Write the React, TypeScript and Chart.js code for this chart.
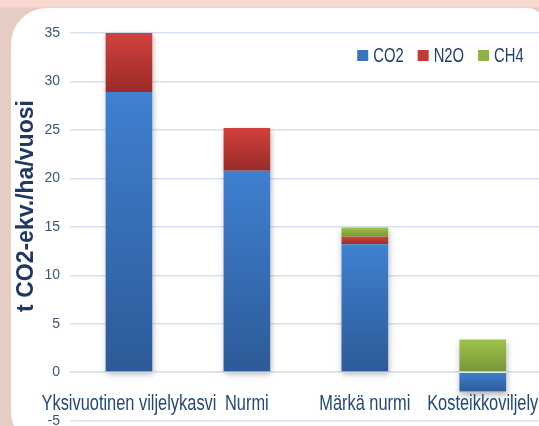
import React, { useEffect, useRef } from "react";
import { Chart, registerables } from "chart.js";

Chart.register(...registerables);

// ---- data ----
const categories = ["Yksivuotinen viljelykasvi", "Nurmi", "Märkä nurmi", "Kosteikkoviljely"];
const seriesNames = ["CO2", "N2O", "CH4"];
const co2Values = [28.9, 20.8, 13.2, -2.0];
const n2oValues = [6.1, 4.4, 0.77, 0];
const ch4Values = [0, 0, 0.96, 3.37];
const yMin = -5;
const yMax = 35;
const yStep = 5;
const yTitle = "t CO2-ekv./ha/vuosi";

// ---- styles ----
const SANS = '"Liberation Sans", Arial, sans-serif';
const gradStops = [
  ["#3F80D0", "#2D5A98"],
  ["#D1413C", "#992B28"],
  ["#9EC24A", "#76953A"],
];
const legendColors = ["#3A74BE", "#C23A33", "#8DB440"];

function segmentGradient(c: any) {
  const chart = c.chart;
  const d = c.datasetIndex;
  const area = chart.chartArea;
  if (!area || c.type !== "data") return gradStops[d][0];
  const i = c.dataIndex;
  const v = chart.data.datasets[d].data[i] as number;
  let base = 0;
  for (let k = 0; k < d; k++) {
    const w = chart.data.datasets[k].data[i] as number;
    if (w !== 0 && (w >= 0) === (v >= 0)) base += w;
  }
  const ys = chart.scales.y;
  const p1 = ys.getPixelForValue(base);
  const p2 = ys.getPixelForValue(base + v);
  const top = Math.min(p1, p2);
  let bot = Math.max(p1, p2);
  if (bot - top < 1) bot = top + 1;
  const g = chart.ctx.createLinearGradient(0, top, 0, bot);
  g.addColorStop(0, gradStops[d][0]);
  g.addColorStop(1, gradStops[d][1]);
  return g;
}

function squeezedText(c: CanvasRenderingContext2D, text: string, x: number, y: number, sx: number) {
  c.save();
  c.translate(x, y);
  c.scale(sx, 1);
  c.fillText(text, 0, 0);
  c.restore();
}

const overlayPlugin = {
  id: "overlay",
  beforeDatasetsDraw(chart: any) {
    // soft drop shadow behind each whole stack
    const c = chart.ctx;
    const n = categories.length;
    c.save();
    c.shadowColor = "rgba(0,0,0,0.30)";
    c.shadowBlur = 6;
    c.shadowOffsetX = 1;
    c.shadowOffsetY = 3;
    c.fillStyle = "#ffffff";
    for (let i = 0; i < n; i++) {
      let top = Infinity;
      let bot = -Infinity;
      let left = 0;
      let width = 0;
      chart.data.datasets.forEach((_: any, d: number) => {
        const el = chart.getDatasetMeta(d).data[i];
        if (!el) return;
        const a = Math.min(el.y, el.base);
        const b = Math.max(el.y, el.base);
        if (b - a < 0.5) return;
        top = Math.min(top, a);
        bot = Math.max(bot, b);
        left = el.x - el.width / 2;
        width = el.width;
      });
      if (isFinite(top)) c.fillRect(left, top, width, bot - top);
    }
    c.restore();
  },
  afterDatasetsDraw(chart: any) {
    const c = chart.ctx;
    const xs = chart.scales.x;
    const ys = chart.scales.y;
    c.save();
    // light axis line at zero drawn over the bars, as in the original
    c.strokeStyle = "rgba(214,225,241,0.9)";
    c.lineWidth = 1.2;
    c.beginPath();
    const zy = ys.getPixelForValue(0);
    c.moveTo(chart.chartArea.left, zy);
    c.lineTo(chart.chartArea.right, zy);
    c.stroke();

    c.font = `22px ${SANS}`;
    c.fillStyle = "#23497C";
    c.textAlign = "center";
    c.textBaseline = "alphabetic";
    const labelY = ys.getPixelForValue(-3.9);
    categories.forEach((lab, i) => {
      squeezedText(c, lab, xs.getPixelForValue(i), labelY, 0.745);
    });
    c.restore();
  },
  afterDraw(chart: any) {
    const c = chart.ctx;
    const area = chart.chartArea;
    c.save();
    c.translate(27, 206);
    c.rotate(-Math.PI / 2);
    c.font = `bold 23px ${SANS}`;
    c.fillStyle = "#1F3864";
    c.textAlign = "center";
    c.textBaseline = "middle";
    c.fillText(yTitle, 0, 0);
    c.restore();

    // legend
    c.save();
    const sx = 0.74;
    c.font = `20px ${SANS}`;
    c.textBaseline = "middle";
    c.textAlign = "left";
    const box = 11;
    const gapBoxText = 5;
    const gapItems = 14;
    const items = chart.data.datasets.map((ds: any) => ds.label as string);
    const widths = items.map((t: string) => c.measureText(t).width * sx);
    let total = 0;
    widths.forEach((w: number, k: number) => {
      total += box + gapBoxText + w + (k < widths.length - 1 ? gapItems : 0);
    });
    let x = area.right - 18 - total;
    const y = 55.5;
    items.forEach((t: string, k: number) => {
      c.fillStyle = legendColors[k];
      c.fillRect(x, y - box / 2, box, box);
      x += box + gapBoxText;
      c.fillStyle = "#1F3F73";
      squeezedText(c, t, x, y + 0.5, sx);
      x += widths[k] + gapItems;
    });
    c.restore();
  },
};

export default function App() {
  const ref = useRef<HTMLCanvasElement | null>(null);

  useEffect(() => {
    document.body.style.margin = "0";
    const canvas = ref.current;
    if (!canvas) return;
    const chart = new Chart(canvas, {
      type: "bar",
      data: {
        labels: categories,
        datasets: [
          { label: seriesNames[0], data: co2Values, backgroundColor: segmentGradient },
          { label: seriesNames[1], data: n2oValues, backgroundColor: segmentGradient },
          { label: seriesNames[2], data: ch4Values, backgroundColor: segmentGradient },
        ],
      },
      options: {
        animation: false,
        responsive: false,
        devicePixelRatio: 1,
        layout: { padding: { left: 0, top: 33, right: 3.3, bottom: 5.3 } },
        datasets: {
          bar: {
            barPercentage: 0.396,
            categoryPercentage: 1,
            borderWidth: 0,
          },
        },
        plugins: {
          legend: { display: false },
          tooltip: { enabled: false },
          title: { display: false },
        },
        scales: {
          x: {
            stacked: true,
            display: false,
          },
          y: {
            stacked: true,
            min: yMin,
            max: yMax,
            ticks: {
              stepSize: yStep,
              padding: 10,
              color: "#3F5479",
              font: { family: SANS, size: 14 },
            },
            grid: { color: "#D6E1F1", lineWidth: 1.6, drawTicks: false },
            border: { display: false },
            afterFit: (s: any) => {
              s.width = 70;
              s.paddingTop = 0;
              s.paddingBottom = 0;
            },
          },
        },
      },
      plugins: [overlayPlugin],
    });
    return () => chart.destroy();
  }, []);

  return (
    <div
      style={{
        position: "relative",
        width: 539,
        height: 426,
        overflow: "hidden",
        background: "#E6CDC4",
      }}
    >
      <div
        style={{
          position: "absolute",
          left: 0,
          top: 0,
          width: 539,
          height: 7,
          background: "#F8D8CE",
          borderBottom: "1px solid #F1CFC4",
        }}
      />
      <div
        style={{
          position: "absolute",
          left: 11,
          top: 8,
          width: 534,
          height: 440,
          background: "#FFFFFF",
          borderRadius: "36px 18px 18px 36px",
        }}
      />
      <canvas
        ref={ref}
        width={545}
        height={426}
        style={{ position: "absolute", left: 0, top: 0, width: 545, height: 426 }}
      />
    </div>
  );
}
